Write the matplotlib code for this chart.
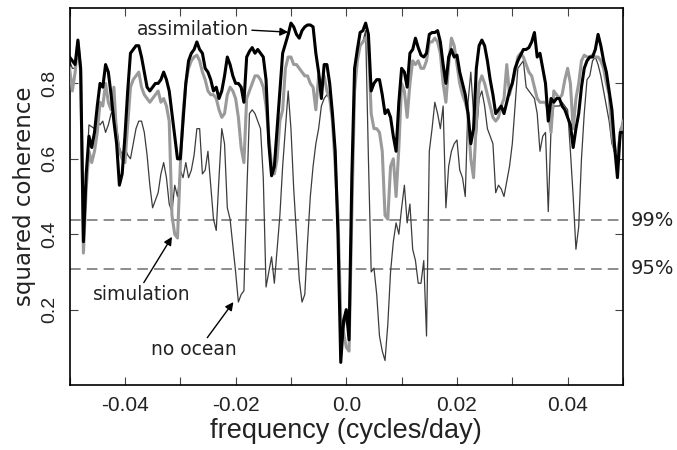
import numpy as np
import matplotlib
matplotlib.use("Agg")
import matplotlib.pyplot as plt
from matplotlib.ticker import FixedLocator, MultipleLocator

# frequency grid (cycles/day), 0.0005 spacing
freq = np.arange(-100, 101) * 0.0005

# squared coherence, -0.05 ... 0.05
assimilation = [
    0.87, 0.86, 0.85, 0.915, 0.84, 0.38, 0.56, 0.66, 0.63, 0.67,
    0.74, 0.80, 0.79, 0.85, 0.83, 0.77, 0.70, 0.64, 0.53, 0.56,
    0.66, 0.78, 0.88, 0.89, 0.90, 0.90, 0.87, 0.83, 0.79, 0.78,
    0.79, 0.80, 0.80, 0.81, 0.83, 0.81, 0.78, 0.72, 0.66, 0.60,
    0.60, 0.70, 0.80, 0.86, 0.88, 0.89, 0.91, 0.89, 0.88, 0.84,
    0.83, 0.81, 0.78, 0.79, 0.76, 0.78, 0.82, 0.87, 0.85, 0.82,
    0.80, 0.80, 0.79, 0.75, 0.87, 0.885, 0.895, 0.88, 0.89, 0.88,
    0.87, 0.81, 0.64, 0.555, 0.58, 0.68, 0.78, 0.88, 0.905, 0.93,
    0.96, 0.95, 0.93, 0.92, 0.94, 0.95, 0.955, 0.955, 0.95, 0.88,
    0.83, 0.76, 0.85, 0.85, 0.80, 0.72, 0.62, 0.40, 0.06, 0.17,
    0.20, 0.12, 0.55, 0.84, 0.89, 0.935, 0.94, 0.96, 0.93, 0.78,
    0.80, 0.81, 0.81, 0.77, 0.72, 0.73, 0.71, 0.66, 0.62, 0.75,
    0.84, 0.83, 0.79, 0.88, 0.89, 0.92, 0.895, 0.875, 0.87, 0.88,
    0.93, 0.935, 0.935, 0.94, 0.91, 0.85, 0.80, 0.87, 0.89, 0.87,
    0.875, 0.83, 0.80, 0.77, 0.72, 0.64, 0.68, 0.84, 0.90, 0.915,
    0.90, 0.86, 0.81, 0.77, 0.72, 0.73, 0.74, 0.72, 0.75, 0.78,
    0.80, 0.84, 0.86, 0.875, 0.89, 0.89, 0.895, 0.91, 0.935, 0.87,
    0.88, 0.84, 0.80, 0.70, 0.76, 0.75, 0.76, 0.76, 0.74, 0.73,
    0.71, 0.69, 0.63, 0.68, 0.72, 0.79, 0.84, 0.86, 0.87, 0.87,
    0.89, 0.93, 0.90, 0.86, 0.83, 0.78, 0.73, 0.63, 0.55, 0.67, 0.67,
]

simulation = [
    0.84, 0.78, 0.83, 0.91, 0.83, 0.35, 0.52, 0.62, 0.59, 0.62,
    0.67, 0.75, 0.74, 0.80, 0.75, 0.73, 0.79, 0.66, 0.62, 0.60,
    0.59, 0.69, 0.79, 0.81, 0.82, 0.83, 0.79, 0.77, 0.76, 0.75,
    0.76, 0.77, 0.78, 0.75, 0.76, 0.74, 0.70, 0.45, 0.40, 0.39,
    0.58, 0.72, 0.80, 0.84, 0.86, 0.87, 0.875, 0.86, 0.83, 0.81,
    0.78, 0.77, 0.77, 0.76, 0.73, 0.71, 0.72, 0.77, 0.79, 0.78,
    0.76, 0.71, 0.63, 0.59, 0.76, 0.78, 0.80, 0.82, 0.82, 0.81,
    0.79, 0.74, 0.66, 0.58, 0.56, 0.60, 0.70, 0.73, 0.84, 0.87,
    0.87, 0.85, 0.85, 0.84, 0.83, 0.82, 0.82, 0.80, 0.79, 0.73,
    0.82, 0.80, 0.82, 0.78, 0.76, 0.70, 0.58, 0.45, 0.18, 0.14,
    0.10, 0.09, 0.45, 0.78, 0.86, 0.90, 0.91, 0.92, 0.90, 0.72,
    0.68, 0.68, 0.67, 0.62, 0.45, 0.44, 0.58, 0.60, 0.50, 0.63,
    0.80, 0.78, 0.71, 0.80, 0.86, 0.85, 0.86, 0.84, 0.84, 0.86,
    0.91, 0.91, 0.92, 0.91, 0.88, 0.80, 0.75, 0.85, 0.92, 0.90,
    0.85, 0.80, 0.77, 0.75, 0.72, 0.60, 0.55, 0.70, 0.80, 0.82,
    0.80, 0.77, 0.74, 0.71, 0.70, 0.71, 0.74, 0.76, 0.85, 0.77,
    0.80, 0.83, 0.87, 0.88, 0.87, 0.85, 0.83, 0.82, 0.79, 0.76,
    0.75, 0.75, 0.75, 0.73, 0.67, 0.78, 0.77, 0.76, 0.77, 0.81,
    0.84, 0.80, 0.68, 0.76, 0.80, 0.86, 0.875, 0.87, 0.87, 0.875,
    0.87, 0.87, 0.86, 0.84, 0.80, 0.77, 0.67, 0.62, 0.62, 0.66, 0.70,
]

no_ocean = [
    0.86, 0.84, 0.84, 0.90, 0.82, 0.37, 0.55, 0.69, 0.685, 0.68,
    0.70, 0.69, 0.70, 0.67, 0.69, 0.72, 0.73, 0.69, 0.63, 0.61,
    0.63, 0.61, 0.60, 0.64, 0.68, 0.70, 0.70, 0.67, 0.61, 0.53,
    0.47, 0.49, 0.51, 0.56, 0.59, 0.55, 0.48, 0.46, 0.53, 0.50,
    0.57, 0.55, 0.59, 0.55, 0.57, 0.61, 0.68, 0.68, 0.56, 0.57,
    0.62, 0.53, 0.44, 0.41, 0.55, 0.68, 0.64, 0.47, 0.44, 0.37,
    0.30, 0.22, 0.24, 0.25, 0.50, 0.72, 0.73, 0.72, 0.70, 0.68,
    0.55, 0.26, 0.30, 0.34, 0.27, 0.36, 0.45, 0.58, 0.68, 0.78,
    0.68, 0.52, 0.40, 0.28, 0.22, 0.24, 0.38, 0.50, 0.58, 0.64,
    0.68, 0.74, 0.76, 0.77, 0.76, 0.70, 0.58, 0.40, 0.08, 0.15,
    0.18, 0.12, 0.48, 0.80, 0.88, 0.90, 0.91, 0.94, 0.60, 0.30,
    0.31, 0.24, 0.13, 0.09, 0.065, 0.16, 0.30, 0.38, 0.43, 0.40,
    0.47, 0.53, 0.43, 0.48, 0.36, 0.33, 0.27, 0.27, 0.33, 0.13,
    0.62, 0.68, 0.75, 0.72, 0.68, 0.74, 0.47, 0.58, 0.62, 0.64,
    0.65, 0.57, 0.55, 0.50, 0.75, 0.83, 0.72, 0.66, 0.76, 0.78,
    0.74, 0.68, 0.66, 0.64, 0.51, 0.53, 0.52, 0.50, 0.54, 0.58,
    0.64, 0.74, 0.84, 0.85, 0.86, 0.79, 0.78, 0.77, 0.76, 0.72,
    0.62, 0.66, 0.67, 0.46, 0.68, 0.74, 0.74, 0.74, 0.75, 0.74,
    0.73, 0.62, 0.50, 0.36, 0.42, 0.60, 0.72, 0.81, 0.82, 0.86,
    0.87, 0.85, 0.82, 0.78, 0.74, 0.70, 0.64, 0.62, 0.60, 0.68, 0.69,
]

# significance levels
sig_levels = [0.437, 0.309]
sig_labels = ["99%", "95%"]

x_ticks = [-0.04, -0.02, 0.0, 0.02, 0.04]
x_ticklabels = ["-0.04", "-0.02", "0.0", "0.02", "0.04"]
y_ticks = [0.2, 0.4, 0.6, 0.8]

plt.rcParams["font.family"] = ["Liberation Sans", "DejaVu Sans"]
ANNOT_FONT = ["DejaVu Sans"]
TEXT_COLOR = "#222222"

fig = plt.figure(figsize=(6.77, 4.5), dpi=100)
ax = fig.add_axes([0.1028, 0.1444, 0.8174, 0.8378])

ax.plot(freq, no_ocean, color="#3c3c3c", lw=0.9, zorder=2)
ax.plot(freq, simulation, color="#9a9a9a", lw=2.2, zorder=3)
ax.plot(freq, assimilation, color="black", lw=2.2, zorder=4)

for lev in sig_levels:
    ax.axhline(lev, color="#6e6e6e", lw=1.1, dashes=(7, 4), zorder=1)
for lev, lab in zip(sig_levels, sig_labels):
    ax.text(1.014, lev, lab, transform=ax.get_yaxis_transform(),
            ha="left", va="center", fontsize=14, family=ANNOT_FONT,
            color=TEXT_COLOR)

ax.set_xlim(-0.05, 0.05)
ax.set_ylim(0.0, 1.0)

ax.xaxis.set_major_locator(FixedLocator(x_ticks))
ax.set_xticklabels(x_ticklabels)
ax.xaxis.set_minor_locator(MultipleLocator(0.01))
ax.yaxis.set_major_locator(FixedLocator(y_ticks))
ax.set_yticklabels([f"{v:.1f}" for v in y_ticks], rotation=90, va="center")

ax.tick_params(axis="both", which="both", direction="in",
               top=True, right=True, length=6, width=0.8, color="#444444",
               labelcolor=TEXT_COLOR)
ax.tick_params(axis="x", which="major", pad=8, labelsize=15)
ax.tick_params(axis="y", which="major", pad=8, labelsize=14)

for sp in ax.spines.values():
    sp.set_linewidth(1.2)

ax.set_xlabel("frequency (cycles/day)", fontsize=19.5, color=TEXT_COLOR,
              labelpad=2)
ax.set_ylabel("squared coherence", fontsize=16.5, color=TEXT_COLOR,
              family=ANNOT_FONT, labelpad=4)

arrow = dict(arrowstyle="-|>", color="black", lw=1.0, mutation_scale=12,
             shrinkA=0, shrinkB=0)
ax.annotate("assimilation", xy=(-0.0105, 0.936), xytext=(-0.0277, 0.944),
            ha="center", va="center", fontsize=13.5, family=ANNOT_FONT,
            color=TEXT_COLOR, arrowprops=dict(arrow, relpos=(1.0, 0.45)))
ax.annotate("simulation", xy=(-0.0315, 0.393), xytext=(-0.0369, 0.239),
            ha="center", va="center", fontsize=13.5, family=ANNOT_FONT,
            color=TEXT_COLOR, arrowprops=dict(arrow, relpos=(0.5, 1.0)))
ax.annotate("no ocean", xy=(-0.0204, 0.22), xytext=(-0.0275, 0.093),
            ha="center", va="center", fontsize=13.5, family=ANNOT_FONT,
            color=TEXT_COLOR, arrowprops=dict(arrow, relpos=(0.63, 1.0)))

fig.savefig("out.png", dpi=100)
